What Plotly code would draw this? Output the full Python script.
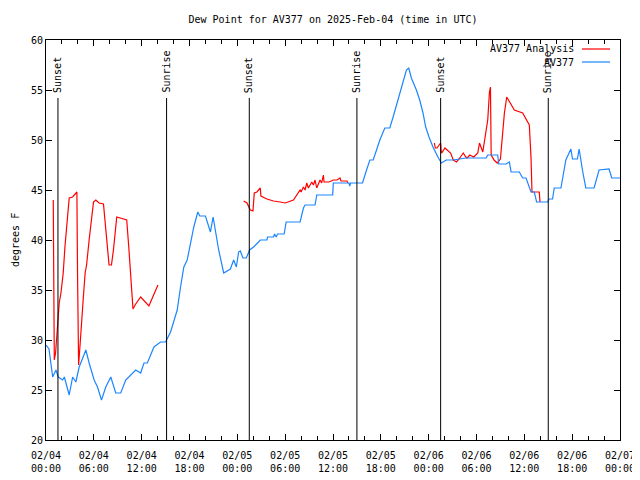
import plotly.graph_objects as go
import pandas as pd

START = pd.Timestamp("2025-02-04 00:00")

# AV377 observed dew point (hours since 2025-02-04 00:00 UTC, deg F)
obs_hours = [0.0, 0.375, 0.84, 1.25, 1.54, 2.09, 2.3, 2.91, 3.34, 3.75, 4.16, 5.0, 5.41,
             6.04, 6.46, 6.96, 7.5, 8.125, 8.75, 9.375, 10.0, 10.625, 11.25, 11.875,
             12.29, 12.71, 13.54, 14.375, 15.0, 15.625, 16.46, 16.875, 17.29, 17.71,
             18.125, 18.54, 19.04, 19.29, 20.0, 20.41, 20.625, 20.96, 21.66, 22.29,
             23.125, 23.54, 23.875, 24.16, 24.375, 24.71, 25.125, 25.54, 26.04, 26.66,
             26.875, 27.71, 27.79, 28.54, 28.66, 28.875, 29.04, 29.875, 30.125, 31.875,
             32.29, 32.5, 33.75, 33.96, 35.96, 36.04, 38.0, 38.1, 38.2, 39.7, 39.875,
             40.21, 40.625, 41.04, 41.46, 41.875, 42.5, 43.125, 43.54, 44.375, 44.79,
             45.21, 45.5, 45.83, 46.46, 46.875, 47.29, 47.625, 48.04, 48.54, 49.16,
             49.375, 49.59, 50.21, 51.04, 52.71, 55.21, 55.41, 56.66, 56.79, 57.71,
             58.125, 58.34, 59.375, 59.79, 60.21, 60.41, 60.84, 61.25, 61.54, 62.91,
             63.125, 63.54, 63.75, 64.59, 65.21, 65.84, 66.04, 66.66, 66.875, 67.29,
             67.71, 68.75, 69.375, 70.625, 70.96, 71.875, 72.0]
obs_values = [29.5, 29.1, 26.3, 27.0, 26.3, 26.0, 26.3, 24.5, 26.3, 25.8, 27.3, 29.0, 27.7,
              26.0, 25.3, 24.0, 25.3, 26.3, 24.7, 24.7, 26.0, 26.5, 27.0, 26.7,
              27.7, 27.7, 29.3, 29.8, 29.8, 30.8, 33.0, 35.3, 37.3, 38.0,
              39.7, 41.3, 42.8, 42.4, 42.4, 41.2, 40.8, 42.3, 39.0, 36.7,
              37.1, 38.0, 37.3, 38.8, 38.9, 38.2, 38.2, 39.0, 39.3, 39.8,
              40.0, 40.0, 40.3, 40.3, 40.6, 40.3, 40.6, 40.6, 41.8, 41.8,
              43.2, 43.5, 43.5, 44.5, 44.5, 45.7, 45.7, 45.4, 45.7, 45.7, 46.2,
              47.0, 48.0, 48.0, 49.0, 50.0, 51.2, 51.2, 52.3, 54.7, 55.7,
              57.0, 57.2, 56.2, 55.0, 54.0, 52.7, 51.3, 50.3, 49.3, 48.3,
              48.0, 47.7, 48.0, 48.0, 48.2, 48.2, 48.5, 48.5, 47.6, 47.6,
              47.8, 46.8, 46.8, 46.2, 46.2, 45.8, 44.8, 44.8, 43.8, 43.8,
              44.1, 44.1, 45.2, 45.2, 48.0, 49.1, 48.1, 48.1, 49.1, 47.0,
              45.2, 45.2, 47.0, 47.1, 46.2, 46.2, 46.2]

# AV377 Analysis, three separate segments
ana1_hours = [0.91, 1.04, 1.2, 1.375, 1.54, 1.66, 1.875, 2.0, 2.16, 2.375, 2.71, 2.91,
              3.34, 3.875, 3.96, 4.09, 4.29, 4.46, 4.66, 4.91, 5.09, 5.41, 5.71, 5.96,
              6.25, 6.66, 7.21, 7.5, 7.91, 8.21, 8.46, 8.875, 9.375, 10.125, 10.41,
              10.625, 10.91, 11.25, 11.875, 12.91, 14.04]
ana1_values = [44.0, 28.0, 28.7, 31.0, 32.5, 33.7, 34.7, 35.7, 36.7, 39.3, 42.0, 44.2,
               44.3, 44.8, 36.3, 27.5, 29.7, 32.3, 34.0, 36.7, 37.5, 40.0, 42.0, 43.8,
               44.0, 43.7, 43.6, 41.0, 37.5, 37.5, 39.0, 42.3, 42.2, 42.0, 39.0,
               36.3, 33.1, 33.6, 34.3, 33.4, 35.5]

ana2_hours = [24.79, 25.21, 25.625, 25.96, 26.125, 26.46, 26.875, 26.96, 27.71, 28.54,
              29.375, 30.0, 31.04, 31.46, 31.875, 32.0, 32.29, 32.5, 32.71, 32.91,
              33.34, 33.54, 33.75, 33.96, 34.375, 34.58, 34.71, 34.79, 34.875, 35.5,
              36.04, 36.5, 36.875, 37.0, 37.75, 37.875]
ana2_values = [43.9, 43.7, 43.0, 42.9, 44.7, 44.8, 45.2, 44.4, 44.1, 43.9,
               43.8, 43.7, 44.0, 44.5, 45.0, 44.8, 45.3, 45.0, 45.7, 45.2,
               45.8, 45.5, 46.0, 45.2, 46.0, 45.7, 46.3, 46.5, 45.8, 45.8,
               46.0, 46.0, 46.2, 45.9, 45.9, 45.7]

ana3_hours = [48.71, 48.84, 49.04, 49.5, 49.59, 49.71, 50.04, 50.75, 51.09, 51.5, 51.91,
              52.34, 52.66, 52.84, 53.16, 53.66, 54.16, 54.375, 54.79, 55.0, 55.41,
              55.625, 55.75, 55.84, 56.2, 56.6, 57.0, 57.5, 57.79, 58.75, 59.79,
              60.625, 60.84, 60.96, 61.875, 61.96]
ana3_values = [49.7, 49.2, 49.2, 49.7, 48.7, 48.8, 49.2, 48.7, 48.0, 47.8, 48.2,
               48.7, 48.3, 48.2, 48.5, 48.3, 48.7, 49.7, 48.8, 50.0, 52.0,
               54.8, 55.3, 48.5, 48.0, 47.7, 48.1, 52.7, 54.3, 53.0, 52.7,
               51.5, 48.2, 44.8, 44.8, 43.8]

sun_hours = [1.5, 15.125, 25.5, 39.0, 49.5, 63.0]
sun_labels = ["Sunset", "Sunrise", "Sunset", "Sunrise", "Sunset", "Sunrise"]

tick_hours = list(range(0, 73, 6))
tick_labels = ["02/04<br>00:00", "02/04<br>06:00", "02/04<br>12:00", "02/04<br>18:00",
               "02/05<br>00:00", "02/05<br>06:00", "02/05<br>12:00", "02/05<br>18:00",
               "02/06<br>00:00", "02/06<br>06:00", "02/06<br>12:00", "02/06<br>18:00",
               "02/07<br>00:00"]


def to_time(hours):
    return [START + pd.Timedelta(hours=h) for h in hours]


RED = "#ff0000"
BLUE = "#1a85ff"
FONT = "DejaVu Sans Mono"

fig = go.Figure()
for hrs, vals in [(ana1_hours, ana1_values), (ana2_hours, ana2_values), (ana3_hours, ana3_values)]:
    fig.add_trace(go.Scatter(x=to_time(hrs), y=vals, mode="lines",
                             line=dict(color=RED, width=1.2), showlegend=False,
                             name="AV377 Analysis"))
fig.add_trace(go.Scatter(x=to_time(obs_hours), y=obs_values, mode="lines",
                         line=dict(color=BLUE, width=1.2), showlegend=False, name="AV377"))

# page body has an 8px margin: figure is offset by (8, 8) in the window
OFF = 8
W, H = 640 - OFF, 480 - OFF
L, R, T, B = 46 - OFF, 20, 40 - OFF, 40
PW, PH = W - L - R, H - T - B


def py(ypx):  # window pixel y -> paper y
    return (440 - ypx) / PH


def px(xpx):  # window pixel x -> paper x
    return (xpx - 46) / PW


for h, lab in zip(sun_hours, sun_labels):
    t = START + pd.Timedelta(hours=h)
    fig.add_shape(type="line", xref="x", yref="paper", x0=t, x1=t, y0=0,
                  y1=py(98), line=dict(color="black", width=1))
    fig.add_annotation(x=t, xref="x", yref="paper", y=py(95), text=lab,
                       textangle=-90, showarrow=False, xanchor="center", yanchor="bottom",
                       font=dict(family=FONT, size=10, color="black"))

# legend drawn manually (text right, sample line left as in reference)
for txt, col, ypx in [("AV377 Analysis", RED, 49), ("AV377", BLUE, 62)]:
    fig.add_annotation(xref="paper", yref="paper", x=px(576), y=py(ypx),
                       text=txt, showarrow=False, xanchor="right", yanchor="middle",
                       font=dict(family=FONT, size=10, color="black"))
    fig.add_shape(type="line", xref="paper", yref="paper", x0=px(582), x1=px(610),
                  y0=py(ypx), y1=py(ypx), line=dict(color=col, width=1.2))

fig.add_annotation(xref="paper", yref="paper", x=px(15), y=0.5, text="degrees F",
                   textangle=-90, showarrow=False, xanchor="center", yanchor="middle",
                   font=dict(family=FONT, size=10, color="black"))

fig.update_layout(
    width=W, height=H,
    margin=dict(l=L, r=R, t=T, b=B, autoexpand=False),
    paper_bgcolor="white", plot_bgcolor="white",
    font=dict(family=FONT, size=10, color="black"),
    title=dict(text="Dew Point for AV377 on 2025-Feb-04 (time in UTC)", x=0.5,
               xref="paper", y=1 - (19 - OFF) / H, yref="container", yanchor="middle",
               xanchor="center", font=dict(family=FONT, size=10, color="black")),
    showlegend=False,
)
fig.update_xaxes(
    range=[START, START + pd.Timedelta(hours=72)], tickmode="array",
    tickvals=to_time(tick_hours), ticktext=tick_labels, automargin=False,
    showline=True, linecolor="black", linewidth=1, mirror="ticks",
    ticks="inside", ticklen=6, tickcolor="black", showgrid=False, zeroline=False,
    ticklabelstandoff=6,
    minor=dict(dtick=2 * 3600 * 1000, ticks="inside", ticklen=4, tickcolor="black",
               showgrid=False),
    tickfont=dict(family=FONT, size=10, color="black"),
)
fig.update_yaxes(
    range=[20, 60], tickmode="array", tickvals=list(range(20, 61, 5)), automargin=False,
    showline=True, linecolor="black", linewidth=1, mirror="ticks",
    ticks="inside", ticklen=6, tickcolor="black", showgrid=False, zeroline=False,
    tickfont=dict(family=FONT, size=10, color="black"),
)

fig.write_html("out.html")
